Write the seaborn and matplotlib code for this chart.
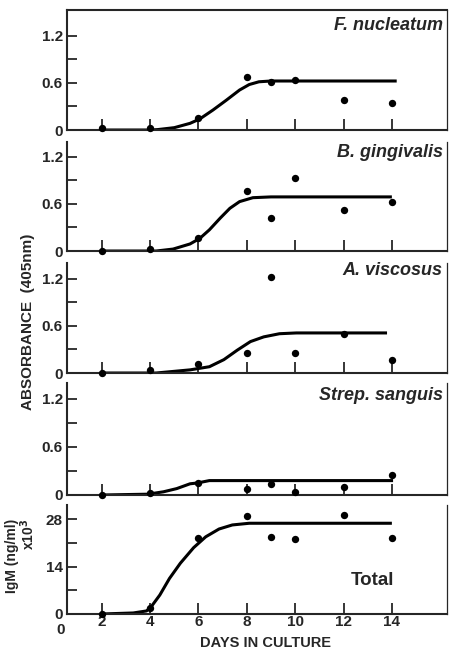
import numpy as np
import pandas as pd
import seaborn as sns
import matplotlib.pyplot as plt

# measured points (days in culture)
days = [2, 4, 6, 8, 9, 10, 12, 14]

fn_pts = [0.02, 0.02, 0.15, 0.67, 0.61, 0.64, 0.38, 0.35]
bg_pts = [0.00, 0.03, 0.17, 0.76, 0.42, 0.93, 0.52, 0.63]
av_pts = [0.00, 0.04, 0.115, 0.26, 1.22, 0.25, 0.50, 0.16]
ss_pts = [0.00, 0.02, 0.15, 0.075, 0.14, 0.04, 0.10, 0.25]
total_pts = [0.0, 1.7, 22.3, 29.0, 22.6, 22.1, 29.2, 22.3]

# fitted curves
fn_curve_x = [2, 4, 4.3, 5, 5.65, 6.05, 6.6, 7.15, 7.7, 8.1, 8.5, 9, 14.2]
fn_curve_y = [0, 0, 0.005, 0.03, 0.085, 0.14, 0.255, 0.38, 0.51, 0.58, 0.615, 0.625, 0.625]

bg_curve_x = [2, 4.25, 4.95, 5.65, 6.05, 6.45, 6.9, 7.3, 7.7, 8.25, 9, 14]
bg_curve_y = [0, 0, 0.025, 0.09, 0.16, 0.27, 0.42, 0.545, 0.63, 0.68, 0.69, 0.69]

av_curve_x = [2, 4.25, 5.65, 6.45, 7.05, 7.6, 8.15, 8.7, 9.35, 10.05, 13.8]
av_curve_y = [0, 0, 0.04, 0.08, 0.17, 0.29, 0.40, 0.46, 0.50, 0.51, 0.51]

ss_curve_x = [2, 3.9, 4.55, 5.1, 5.65, 5.95, 6.45, 14.05]
ss_curve_y = [0, 0.01, 0.04, 0.08, 0.14, 0.15, 0.18, 0.18]

total_curve_x = [2, 3.3, 3.85, 4.05, 4.4, 4.8, 5.25, 5.8, 6.3, 6.85, 7.4, 8.1, 14]
total_curve_y = [0, 0.3, 0.9, 2.2, 5.6, 10.5, 15.0, 19.6, 22.8, 25.1, 26.3, 26.8, 26.8]

names = ['F. nucleatum', 'B. gingivalis', 'A. viscosus', 'Strep. sanguis', 'Total']
x_ticks = [2, 4, 6, 8, 10, 12, 14]
abs_ticks = [0, 0.6, 1.2]
abs_labels = ['0', '0.6', '1.2']
igm_ticks = [0, 14, 28]
igm_labels = ['0', '14', '28']

sns.set_style('ticks')
plt.rcParams['font.family'] = ['Liberation Sans', 'DejaVu Sans']
plt.rcParams['font.weight'] = 'bold'
plt.rcParams['mathtext.default'] = 'bf'

fig = plt.figure(figsize=(4.49, 6.52), dpi=100)

# axes boxes in figure fraction: left, bottom, width, height
boxes = [
    [0.1492, 0.8006, 0.8463, 0.1840],
    [0.1492, 0.6150, 0.8463, 0.1672],
    [0.1492, 0.4279, 0.8463, 0.1687],
    [0.1492, 0.2408, 0.8463, 0.1718],
    [0.1492, 0.0583, 0.8463, 0.1672],
]
ytops = [1.53, 1.39, 1.40, 1.40, 32.2]
label_y = [0.874, 0.90, 0.936, 0.89]

panels = [
    (fn_pts, fn_curve_x, fn_curve_y),
    (bg_pts, bg_curve_x, bg_curve_y),
    (av_pts, av_curve_x, av_curve_y),
    (ss_pts, ss_curve_x, ss_curve_y),
    (total_pts, total_curve_x, total_curve_y),
]

for i, (pts, cx, cy) in enumerate(panels):
    ax = fig.add_axes(boxes[i])
    sns.lineplot(x=cx, y=cy, ax=ax, color='black', lw=2.2, sort=False,
                 solid_joinstyle='round', solid_capstyle='butt')
    sns.scatterplot(x=days, y=pts, ax=ax, color='black', s=28,
                    edgecolor='black', linewidth=0, zorder=5, clip_on=False)

    ax.set_xlim(0.56, 16.28)
    ax.set_ylim(0, ytops[i])
    ax.set_xticks(x_ticks)
    ax.tick_params(axis='x', direction='in', length=8, width=1.3)
    ax.tick_params(axis='y', direction='in', length=7, width=1.3,
                   labelsize=11, pad=3)
    ax.tick_params(axis='y', which='minor', direction='in', length=7, width=1.3)

    for side in ['left', 'bottom']:
        ax.spines[side].set_linewidth(1.5)
    ax.spines['right'].set_linewidth(0.9)
    ax.spines['top'].set_visible(i == 0)
    ax.spines['top'].set_linewidth(1.5)

    if i < 4:
        ax.set_yticks(abs_ticks)
        ax.set_yticklabels(abs_labels)
        ax.set_yticks([0.3, 0.9], minor=True)
        ax.set_xticklabels([])
        ax.text(0.989, label_y[i], names[i], transform=ax.transAxes,
                ha='right', va='center', fontsize=13, style='italic',
                fontweight='bold')
    else:
        ax.set_yticks(igm_ticks)
        ax.set_yticklabels(igm_labels)
        ax.set_yticks([7, 21], minor=True)
        ax.tick_params(axis='x', labelsize=11, pad=1)
        ax.text(0.3, -2.6, '0', ha='center', va='top', fontsize=11,
                fontweight='bold', clip_on=False)
        ax.text(13.2, 10, names[i], ha='center', va='center', fontsize=13.5,
                fontweight='bold')
    ax.set_xlabel('')
    ax.set_ylabel('')

fig.text(0.0624, 0.506, 'ABSORBANCE  (405nm)', rotation=90, ha='center',
         va='center', fontsize=11, fontweight='bold')
fig.text(0.026, 0.205, 'IgM (ng/ml)', rotation=90, ha='center',
         va='top', fontsize=10, fontweight='bold')
fig.text(0.062, 0.205, r'x10$^3$', rotation=90, ha='center',
         va='top', fontsize=10, fontweight='bold')
fig.text(0.592, 0.0145, 'DAYS IN CULTURE', ha='center', va='center',
         fontsize=10.5, fontweight='bold')

fig.savefig('out.png', dpi=100)
